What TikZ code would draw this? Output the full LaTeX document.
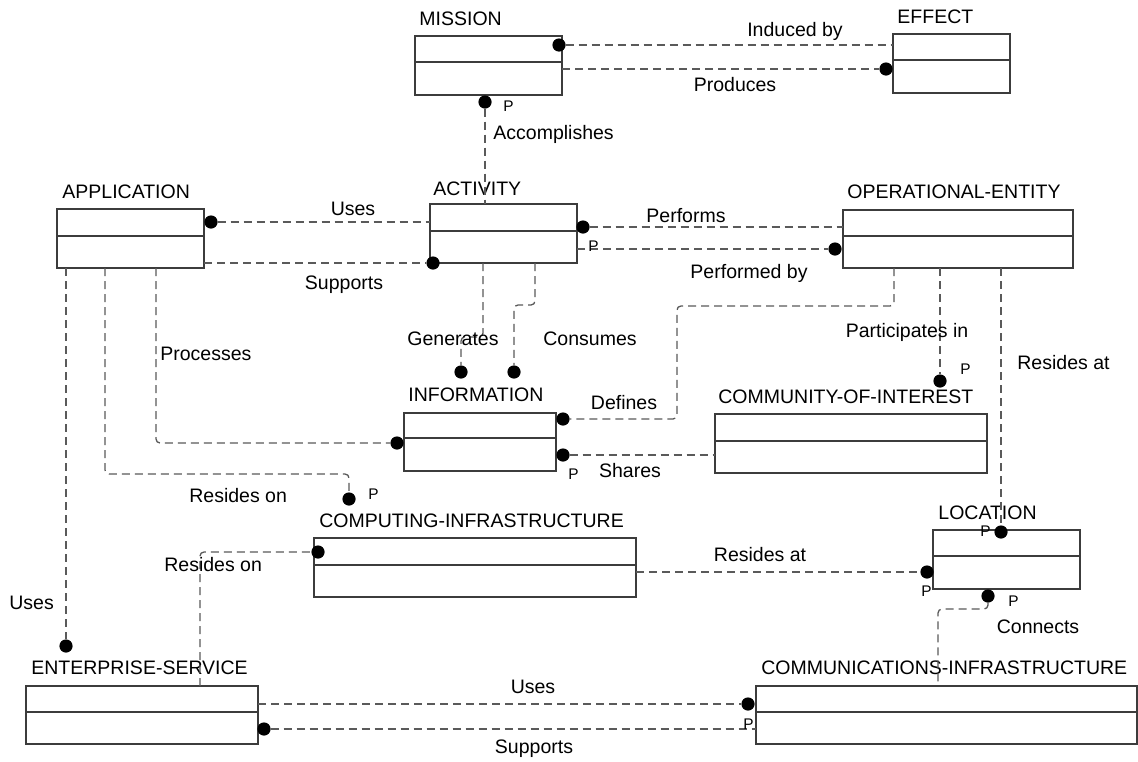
\documentclass[tikz,border=0pt]{standalone}
\usepackage{fontspec}
\setmainfont{Liberation Sans}
\definecolor{boxgray}{HTML}{3C3C3C}
\definecolor{linegray}{HTML}{5A5A5A}
% entity: name, left, top, width, height, divider y, title x, title baseline, title
\newcommand{\entitybox}[9]{%
  \node[ebox, minimum width=#4, minimum height=#5] (#1) at (#2,#3) {};
  \draw[divline] (#1.west |- 0,#6) -- (#1.east |- 0,#6);
  \node[etitle] (#1-title) at (#7,#8) {#9};
}
\begin{document}
\begin{tikzpicture}[x=0.5pt,y=-0.5pt,
  ebox/.style={draw=boxgray, line width=0.7pt, fill=white, rectangle, anchor=north west, inner sep=0pt, outer sep=0pt},
  divline/.style={draw=boxgray, line width=0.7pt},
  etitle/.style={anchor=base west, inner sep=0pt, font=\fontsize{9.75pt}{11pt}\selectfont},
  rlabel/.style={anchor=base, inner sep=0pt, font=\fontsize{9.75pt}{11pt}\selectfont},
  rlabelw/.style={anchor=base west, inner sep=0pt, font=\fontsize{9.75pt}{11pt}\selectfont},
  plabel/.style={anchor=base west, inner sep=0pt, font=\fontsize{7.7pt}{9pt}\selectfont},
  pdot/.style={circle, fill=black, inner sep=0pt, outer sep=0pt, minimum size=6.6pt},
  rel/.style={draw=linegray, line width=0.65pt, dash pattern=on 4pt off 2.5pt, rounded corners=2pt},
]
\fill[white] (0,0) rectangle (1138,761);
\useasboundingbox (0,0) rectangle (1138,761);

% entities
\entitybox{mission}{415}{36}{73.5pt}{29.5pt}{62}{419}{25}{MISSION}
\entitybox{effect}{893}{34}{58.5pt}{29.5pt}{60}{897}{23}{EFFECT}
\entitybox{application}{57}{209}{73.5pt}{29.5pt}{236}{62}{198}{APPLICATION}
\entitybox{activity}{430}{204}{73.5pt}{29.5pt}{231}{433}{195}{ACTIVITY}
\entitybox{oe}{843}{210}{115pt}{29pt}{236}{847}{198}{OPERATIONAL-ENTITY}
\entitybox{information}{404}{413}{76pt}{29pt}{438}{408}{401}{INFORMATION}
\entitybox{coi}{715}{414}{136pt}{29.5pt}{441}{718}{403}{COMMUNITY-OF-INTEREST}
\entitybox{computing}{314}{538}{161pt}{29.5pt}{565}{319}{527}{COMPUTING-INFRASTRUCTURE}
\entitybox{location}{933}{530}{73.5pt}{29.5pt}{556}{938}{519}{LOCATION}
\entitybox{es}{26}{686}{116pt}{29pt}{712}{31}{674}{ENTERPRISE-SERVICE}
\entitybox{comm}{756}{686}{190.5pt}{29pt}{712}{761}{674}{COMMUNICATIONS-INFRASTRUCTURE}

% relationship end dots
\node[pdot] (d-induced)  at (559,45) {};
\node[pdot] (d-produces) at (886,69) {};
\node[pdot] (d-accomp)   at (485,102) {};
\node[pdot] (d-appuses)  at (211,222) {};
\node[pdot] (d-actsup)   at (433,263) {};
\node[pdot] (d-performs) at (583,227) {};
\node[pdot] (d-perfby)   at (835,249) {};
\node[pdot] (d-gen)      at (461,372) {};
\node[pdot] (d-cons)     at (514,372) {};
\node[pdot] (d-def)      at (563,419) {};
\node[pdot] (d-share)    at (563,455) {};
\node[pdot] (d-proc)     at (397,443) {};
\node[pdot] (d-part)     at (940,381) {};
\node[pdot] (d-locres)   at (1001,532) {};
\node[pdot] (d-locleft)  at (927,572) {};
\node[pdot] (d-conn)     at (988,596) {};
\node[pdot] (d-compres)  at (318,552) {};
\node[pdot] (d-reson)    at (349,499) {};
\node[pdot] (d-esuses)   at (66,646) {};
\node[pdot] (d-essup)    at (264,729) {};
\node[pdot] (d-commuses) at (748,704) {};

% free ends of routed connectors
\coordinate (gen-top)   at (483,263);
\coordinate (cons-top)  at (535,263);
\coordinate (def-top)   at (894,268);
\coordinate (proc-top)  at (156,268);
\coordinate (reson-top) at (105,268);
\coordinate (es-top)    at (200,686);
\coordinate (conn-bot)  at (938,686);

% relationships
\draw[rel] (d-induced) -- (d-induced -| effect.west);
\draw[rel] (mission.east |- d-produces) -- (d-produces);
\draw[rel] (d-accomp) -- (d-accomp |- activity.north);
\draw[rel] (d-appuses) -- (d-appuses -| activity.west);
\draw[rel] (application.east |- d-actsup) -- (d-actsup);
\draw[rel] (d-performs) -- (d-performs -| oe.west);
\draw[rel] (activity.east |- d-perfby) -- (d-perfby);
\draw[rel] (gen-top) -- ++(0,74) -| (d-gen);
\draw[rel] (cons-top) -- ++(0,42) -| (d-cons);
\draw[rel] (def-top) |- (677,306) |- (d-def);
\draw[rel] (d-share) -- (d-share -| coi.west);
\draw[rel] (d-part |- oe.south) -- (d-part);
\draw[rel] (d-locres |- oe.south) -- (d-locres);
\draw[rel] (proc-top) |- (d-proc);
\draw[rel] (reson-top) -- ++(0,206) -| (d-reson);
\draw[rel] (d-esuses |- application.south) -- (d-esuses);
\draw[rel] (es-top) |- (d-compres);
\draw[rel] (computing.east |- d-locleft) -- (d-locleft);
\draw[rel] (d-conn) -- ++(0,13) -| (conn-bot);
\draw[rel] (es.east |- d-commuses) -- (d-commuses);
\draw[rel] (d-essup) -- (d-essup -| comm.west);

% relationship names
\node[rlabel]  (l-induced)  at (795,36)  {Induced by};
\node[rlabel]  (l-produces) at (735,91)  {Produces};
\node[rlabelw] (l-accomp)   at (493,139) {Accomplishes};
\node[rlabel]  (l-appuses)  at (353,215) {Uses};
\node[rlabel]  (l-actsup)   at (344,289) {Supports};
\node[rlabel]  (l-performs) at (686,222) {Performs};
\node[rlabel]  (l-perfby)   at (749,278) {Performed by};
\node[rlabel]  (l-gen)      at (453,345) {Generates};
\node[rlabel]  (l-cons)     at (590,345) {Consumes};
\node[rlabel]  (l-def)      at (624,409) {Defines};
\node[rlabel]  (l-share)    at (630,477) {Shares};
\node[rlabel]  (l-part)     at (907,337) {Participates in};
\node[rlabelw] (l-locres)   at (1017,369) {Resides at};
\node[rlabelw] (l-proc)     at (160,360) {Processes};
\node[rlabelw] (l-reson)    at (189,502) {Resides on};
\node[rlabelw] (l-compres)  at (164,571) {Resides on};
\node[rlabelw] (l-esuses)   at (9,609)   {Uses};
\node[rlabel]  (l-locleft)  at (760,561) {Resides at};
\node[rlabel]  (l-conn)     at (1038,633) {Connects};
\node[rlabel]  (l-commuses) at (533,693) {Uses};
\node[rlabel]  (l-essup)    at (534,753) {Supports};

% participation markers
\node[plabel] (p1) at (503,111) {P};
\node[plabel] (p2) at (588,251) {P};
\node[plabel] (p3) at (960,374) {P};
\node[plabel] (p4) at (568,479) {P};
\node[plabel] (p5) at (368,499) {P};
\node[plabel] (p6) at (980,536) {P};
\node[plabel] (p7) at (921,596) {P};
\node[plabel] (p8) at (1008,606) {P};
\node[plabel] (p9) at (743,729) {P};
\end{tikzpicture}
\end{document}
